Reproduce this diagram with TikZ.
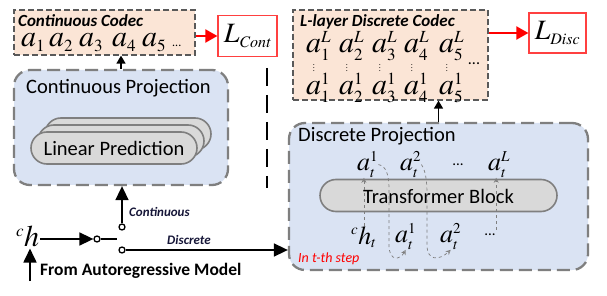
\documentclass[tikz,border=0pt]{standalone}
\usepackage{mathptmx}
\usepackage[no-math]{fontspec}
\setmainfont{Carlito}
\usetikzlibrary{arrows.meta,positioning,calc}
\definecolor{cdcpeach}{HTML}{FBE5D6}
\definecolor{prjblue}{HTML}{DAE3F3}
\definecolor{pillgray}{HTML}{D9D9D9}
\definecolor{edgegray}{HTML}{7F7F7F}
\definecolor{lblnavy}{HTML}{161638}
\DeclareMathSizes{30}{30}{17}{13}
\DeclareMathSizes{28}{28}{16}{12}
\DeclareMathSizes{26}{26}{15}{11}
\newcommand{\bigtxt}{\fontsize{20.5}{24}\selectfont}
\newcommand{\ttltxt}{\fontsize{17}{20}\selectfont\bfseries\itshape}
\newcommand{\mathtxt}{\fontsize{30}{32}\selectfont}
\newcommand{\vdts}{\vbox{\baselineskip3pt\lineskiplimit0pt\hbox{.}\hbox{.}\hbox{.}}}
\tikzset{
  codecbox/.style={draw=black!65,dash pattern=on 6pt off 3pt,line width=1.3pt,fill=cdcpeach,inner sep=0pt},
  projbox/.style={draw=edgegray,line width=2.3pt,dash pattern=on 13pt off 6pt,fill=prjblue,rounded corners=16pt,inner sep=0pt},
  pillbox/.style={draw=edgegray,line width=1.6pt,fill=pillgray,rounded corners=16pt,minimum height=32pt,inner sep=0pt,font=\bigtxt},
  lossbox/.style={draw=red!75,line width=1.2pt,fill=white,inner sep=0pt,font=\fontsize{28}{30}\selectfont},
  mathlbl/.style={inner sep=0pt,font=\mathtxt},
  smath/.style={inner sep=0pt,font=\fontsize{26}{28}\selectfont,anchor=base west},
  titlelbl/.style={inner sep=0pt,font=\ttltxt,anchor=base west},
  switchlbl/.style={inner sep=0pt,font=\fontsize{13}{15}\selectfont\bfseries\itshape,text=lblnavy},
  contact/.style={circle,draw,line width=1.3pt,minimum size=6pt,inner sep=0pt,fill=white},
  redarr/.style={-{Triangle[length=12pt,width=13pt]},draw=red,line width=2pt},
  blkarr/.style={-{Triangle[length=14pt,width=13pt]},line width=1.7pt},
  shortarr/.style={-{Triangle[length=8pt,width=9pt]},line width=1.6pt},
  loopline/.style={-{Stealth[length=5pt,width=5pt,open]},draw=edgegray,dashed,line width=0.7pt}
}
\begin{document}
\begin{tikzpicture}[x=1pt,y=-1pt]
\useasboundingbox[fill=white] (0,0) rectangle (607,296);
% continuous branch
\node[codecbox,minimum width=181pt,minimum height=45pt] (ccodec) at (104.5,32.5) {};
\node[titlelbl] (ccodect) at (18,27) {Continuous Codec};
\foreach \i/\xa in {1/21,2/49,3/79,4/112,5/142}
  \node[mathlbl,anchor=base west] (c\i) at (\xa,47) {$a_{\i}$};
\node[inner sep=0pt,font=\fontsize{12}{12}\selectfont,anchor=base west] (cdots) at (172,47) {...};
\node[lossbox,minimum width=59pt,minimum height=41pt] (lcont) at (247.5,36) {$L_{\mathit{Cont}}$};
\draw[redarr] (ccodec.east |- lcont.west) -- (lcont.west);
\node[projbox,minimum width=214pt,minimum height=115pt] (cproj) at (121,127.5) {};
\node[inner sep=0pt,font=\bigtxt,anchor=base west] (cprojt) at (26,94) {Continuous Projection};
\node[pillbox,minimum width=166pt] (lin3) at (128,134) {};
\node[pillbox,minimum width=166pt] (lin2) at (121,141) {};
\node[pillbox,minimum width=166pt] (lin1) at (114,148) {Linear Prediction};
\draw[shortarr] (cproj.north) -- (cproj.north |- ccodec.south);
% separator
\draw[line width=2pt,dash pattern=on 18pt off 9pt] (267,68) -- (267,188);
% discrete branch
\node[codecbox,minimum width=195pt,minimum height=90pt] (dcodec) at (390.5,55) {};
\node[titlelbl] (dcodect) at (300,27) {L-layer Discrete Codec};
\foreach \i/\xa in {1/306,2/339,3/372,4/404,5/439}{
  \node[mathlbl,anchor=base west] (dL\i) at (\xa,53) {$a_{\i}^{L}$};
  \node[mathlbl,anchor=base west] (d1\i) at (\xa,95) {$a_{\i}^{1}$};
  \node[inner sep=0pt,font=\fontsize{8}{8}\selectfont] (dv\i) at ({\xa+8},68) {\vdts};
}
\node[inner sep=0pt,font=\fontsize{16}{16}\selectfont] (ddots) at (474,64) {...};
\node[lossbox,minimum width=57pt,minimum height=40pt] (ldisc) at (557.5,33) {$L_{\mathit{Disc}}$};
\draw[redarr] (dcodec.east |- ldisc.west) -- (ldisc.west);
\node[projbox,minimum width=299pt,minimum height=147pt] (dproj) at (438.5,196.5) {};
\node[inner sep=0pt,font=\bigtxt,anchor=base west] (dprojt) at (298,142) {Discrete Projection};
\draw[shortarr] (dproj.north) -- (dproj.north |- dcodec.south);
\node[pillbox,minimum width=237pt] (tblock) at (438.5,195.5) {};
\node[inner sep=0pt,font=\bigtxt] (tblockt) at (438.5,196) {Transformer Block};
\node[smath] (t1) at (357,171) {$a_{t}^{1}$};
\node[smath] (t2) at (400,171) {$a_{t}^{2}$};
\node[inner sep=0pt,font=\fontsize{15}{15}\selectfont] (tdots) at (458,165) {...};
\node[smath] (tL) at (488,171) {$a_{t}^{L}$};
\node[smath] (hc) at (351,244) {$^{c}h_{t}$};
\node[smath] (b1) at (395,243) {$a_{t}^{1}$};
\node[smath] (b2) at (440,243) {$a_{t}^{2}$};
\node[inner sep=0pt,font=\fontsize{15}{15}\selectfont] (bdots) at (490,235) {...};
\draw[loopline] (hc.north) -- (hc.north |- t1.south);
\draw[loopline] ($(tL.south)+(-3,52)$) -- ($(tL.south)+(-3,0)$);
\draw[loopline] (t1.east) .. controls (386,166) and (389,174) .. (389,190) -- (389,245)
  .. controls (389,262) and (400,260) .. (b1.south);
\draw[loopline] (t2.east) .. controls (425,170) and (427,178) .. (427,195) -- (427,245)
  .. controls (427,262) and (440,260) .. (b2.south);
\node[inner sep=0pt,font=\fontsize{14}{16}\selectfont\itshape,text=red,anchor=base west] (stepl) at (298,262) {In t-th step};
% switch
\node[mathlbl,anchor=base west,inner sep=1pt] (hin) at (15,247) {$^{c}h$};
\node[contact] (sw) at (97,239) {};
\node[contact] (ctop) at (122,227) {};
\node[contact] (cbot) at (122,250) {};
\coordinate (lever) at (117,239);
\draw[blkarr] (hin.east |- sw.west) -- (sw.west);
\draw[line width=1.3pt] (sw.east) -- (lever);
\draw[blkarr] (ctop.north) -- (ctop.north |- cproj.south);
\draw[blkarr] (cbot.east) -- (cbot.east -| dproj.west);
\node[switchlbl,anchor=west] (contl) at (129,212) {Continuous};
\node[switchlbl] (discl) at (189,240) {Discrete};
\node[inner sep=0pt,font=\fontsize{17.5}{20}\selectfont\bfseries,anchor=west] (froml) at (40,271) {From Autoregressive Model};
\coordinate (fromtail) at (30,281);
\draw[blkarr] (fromtail) -- (fromtail |- hin.south);
\end{tikzpicture}
\end{document}
